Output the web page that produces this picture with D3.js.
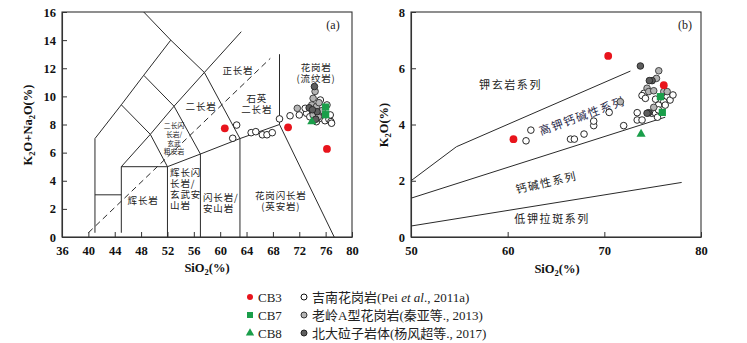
<!DOCTYPE html>
<html><head><meta charset="utf-8">
<script src="https://cdn.jsdelivr.net/npm/d3@7"></script>
<style>
body{margin:0;background:#fff;}
svg{display:block;font-family:"Liberation Serif","Noto Sans CJK SC",serif;}
</style></head>
<body><svg id="c" width="747" height="343"></svg>
<script>
// ---------- DATA ----------
// Panel (a): SiO2 vs K2O+Na2O
const aTicksX = [36,40,44,48,52,56,60,64,68,72,76,80];
const aTicksY = [0,2,4,6,8,10,12,14,16];
const aCB3 = [[60.7,7.73],[70.3,7.80],[76.2,6.26]];
const aCB7 = [[76.0,9.24],[76.0,8.70]];
const aCB8 = [[73.9,8.20]];
const aJinan = [[61.9,7.02],[62.5,7.96],[64.7,7.42],[65.4,7.49],[66.4,7.27],[67.1,7.27],[67.9,7.42],
  [69.0,8.40],[70.6,8.62],[72.0,8.68],[73.1,8.80],[72.9,9.15],[75.2,9.74],[75.1,8.91],[75.1,8.44],
  [74.6,8.20],[75.9,8.27],[76.5,8.37],[76.8,8.20],[76.2,9.39],[76.7,8.68],[76.9,8.09],[73.6,8.55]];
const aLaoling = [[74.4,10.35],[74.1,9.86],[73.9,9.39],[74.6,9.27],[74.1,8.68],[71.7,9.15],[75.0,9.55],[75.5,9.0],[74.9,8.55]];
const aBeidalazi = [[74.3,10.70],[73.5,9.19],[74.7,8.91],[74.5,8.37],[74.0,9.05]];
// classification boundaries (TAS)
const aLines = [
  [[41,0.3],[41,7]],[[41,3],[45,3]],[[45,0.3],[45,5]],[[45,5],[52,5]],[[52,0],[52,5]],
  [[57,0],[57,5.9]],[[63,0],[63,7]],
  [[45,5],[49.4,7.3],[53,9.3],[57.6,11.7],[63.2,14.6]],
  [[41,7],[45,9.4],[48.4,11.5],[52.5,14]],
  [[45,9.4],[49.4,7.3],[52,5]],
  [[48.4,11.5],[53,9.3],[57,5.9]],
  [[48.4,16],[52.5,14],[57.6,11.7],[63,7]],
  [[52,5],[57,5.9],[63,7],[69,8]],
  [[69,8],[69,13]],[[69,8],[77.3,0]]
];
const aDashed = [[40,0.3],[67.6,12.7]];
// field names (stacked lines share one label)
const aLabels = [
  {t:["正长岩"],x:62.7,y:11.85,a:"middle"},
  {t:["二长岩"],x:57.1,y:9.3,a:"middle"},
  {t:["石英","二长岩"],x:65.55,y:9.82,a:"middle"},
  {t:["花岗岩","(流纹岩)"],x:74.55,y:12.05,a:"middle"},
  {t:["花岗闪长岩","(英安岩)"],x:69.2,y:2.95,a:"middle"},
  {t:["辉长岩"],x:48.3,y:2.56,a:"middle"},
  {t:["闪长岩/","安山岩"],x:57.4,y:2.83,a:"start"},
  {t:["辉长闪","长岩/","玄武安","山岩"],x:52.4,y:4.6,a:"start"}
];
const aLabelsSmall = [{t:["二长闪","长岩/","玄武","粗安岩"],x:53.0,y:7.9,a:"middle"}];

// Panel (b): SiO2 vs K2O
const bTicksX = [50,60,70,80];
const bTicksY = [0,2,4,6,8];
const bCB3 = [[60.6,3.48],[70.4,6.44],[76.15,5.40]];
const bCB7 = [[75.8,4.99],[76.0,4.43]];
const bCB8 = [[73.8,3.66]];
const bJinan = [[61.9,3.42],[62.4,3.80],[66.5,3.48],[66.9,3.48],[67.9,3.66],[68.9,3.96],[68.9,4.12],
  [70.5,4.43],[72.0,3.96],[73.4,4.42],[73.4,4.16],[73.9,4.16],[74.1,5.11],[73.9,5.03],[74.25,4.93],
  [76.5,4.99],[76.8,4.87],[75.3,4.90],[76.15,4.81],[76.3,4.69],[75.6,4.69],[74.9,4.40],[75.3,4.40],
  [75.6,4.52],[75.5,4.26],[77.1,5.05]];
const bLaoling = [[75.63,5.91],[75.39,5.64],[74.42,5.29],[74.59,5.17],[75.11,5.20],[76.15,5.17],[76.5,5.17],[75.11,4.61],[71.66,4.81]];
const bBeidalazi = [[73.73,6.08],[74.94,5.56],[74.66,5.56],[74.59,4.42],[74.42,4.40]];
const bLines = [
  [[50,2.0],[54.7,3.21],[72.7,5.9]],
  [[50,1.38],[76.3,4.26]],
  [[50,0.39],[78,1.94]]
];

// ---------- DRAW ----------
const svg = d3.select("#c");
const ink = "#333";
const RED = "#e8141c", GREEN = "#1a9e4a", GREY = "#b4b4b4", DARK = "#5e5e5e";

function panel(xd, yd, xr, yr, xt, yt){
  const x = d3.scaleLinear().domain(xd).range(xr);
  const y = d3.scaleLinear().domain(yd).range(yr);
  const g = svg.append("g");
  g.append("rect").attr("x",xr[0]).attr("y",yr[1]).attr("width",xr[1]-xr[0]).attr("height",yr[0]-yr[1])
    .attr("fill","none").attr("stroke",ink).attr("stroke-width",1.1);
  const ax = g.append("g").attr("transform",`translate(0,${yr[0]})`)
    .call(d3.axisBottom(x).tickValues(xt).tickSizeInner(-5).tickSizeOuter(0).tickPadding(9));
  const ay = g.append("g").attr("transform",`translate(${xr[0]},0)`)
    .call(d3.axisLeft(y).tickValues(yt).tickSizeInner(-5).tickSizeOuter(0).tickPadding(6));
  [ax,ay].forEach(a=>{
    a.select(".domain").attr("stroke",ink).attr("stroke-width",1.1);
    a.selectAll(".tick line").attr("stroke",ink);
    a.selectAll("text").attr("font-family","Liberation Serif").attr("font-size",12.5).attr("fill","#111").attr("font-weight","bold");
  });
  return {g,x,y};
}

const A = panel([36,80],[0,16],[62,352],[237,12],aTicksX,aTicksY);
const B = panel([50,80],[0,8],[411,701],[237,12],bTicksX,bTicksY);

function lines(P, arr, dash){
  const ln = d3.line().x(d=>P.x(d[0])).y(d=>P.y(d[1]));
  P.g.append("g").selectAll("path").data(arr).join("path").attr("d",ln)
    .attr("fill","none").attr("stroke","#2a2a2a").attr("stroke-width",1).attr("stroke-dasharray",dash||null);
}
lines(A, aLines);
lines(A, [aDashed], "6,4");
lines(B, bLines);

function labels(P, arr, size, ls, lh){
  P.g.append("g").selectAll("text").data(arr).join("text")
    .attr("y",d=>P.y(d.y)).attr("text-anchor",d=>d.a).attr("font-size",size).attr("fill","#222")
    .attr("letter-spacing",ls).attr("font-family","Noto Sans CJK SC")
    .each(function(d){
      const t = d3.select(this);
      d.t.forEach((s,i)=>t.append("tspan").attr("x",P.x(d.x)).attr("dy",i===0?"0.35em":lh).text(s));
    });
}
labels(A, aLabels, 9.5, 0.8, 11);
labels(A, aLabelsSmall, 6.8, 0, 8.7);

// panel b rotated / plain labels
const bl = B.g.append("g").attr("font-family","Noto Sans CJK SC").attr("fill","#222");
bl.append("text").attr("x",B.x(60.3)).attr("y",B.y(5.4)).attr("dy","0.35em").attr("text-anchor","middle").attr("font-size",11).attr("letter-spacing",1.6).text("钾玄岩系列");
bl.append("text").attr("transform",`translate(${B.x(67.7)},${B.y(4.3)}) rotate(-20)`).attr("dy","0.35em").attr("text-anchor","middle").attr("font-size",11.5).attr("letter-spacing",1.4).attr("fill","#2a2a4a").text("高钾钙碱性系列");
bl.append("text").attr("transform",`translate(${B.x(64.0)},${B.y(1.93)}) rotate(-13)`).attr("dy","0.35em").attr("text-anchor","middle").attr("font-size",11).attr("letter-spacing",1.5).text("钙碱性系列");
bl.append("text").attr("x",B.x(64.6)).attr("y",B.y(0.65)).attr("dy","0.35em").attr("text-anchor","middle").attr("font-size",11).attr("letter-spacing",1.6).text("低钾拉斑系列");

// panel tags
A.g.append("text").attr("x",333).attr("y",29).attr("text-anchor","middle").attr("font-size",12).attr("fill","#222").text("(a)");
B.g.append("text").attr("x",685).attr("y",29).attr("text-anchor","middle").attr("font-size",12).attr("fill","#222").text("(b)");

// points
function circles(P, arr, fill, stroke, r){
  P.g.append("g").selectAll("circle").data(arr).join("circle")
    .attr("cx",d=>P.x(d[0])).attr("cy",d=>P.y(d[1])).attr("r",r)
    .attr("fill",fill).attr("stroke",stroke).attr("stroke-width",stroke==="none"?0:0.9);
}
function symbols(P, arr, type, size, fill){
  P.g.append("g").selectAll("path").data(arr).join("path")
    .attr("transform",d=>`translate(${P.x(d[0])},${P.y(d[1])})`)
    .attr("d",d3.symbol().type(type).size(size)).attr("fill",fill);
}
[[A,aJinan,aLaoling,aBeidalazi,aCB3,aCB7,aCB8],[B,bJinan,bLaoling,bBeidalazi,bCB3,bCB7,bCB8]].forEach(([P,j,l,b,c3,c7,c8])=>{
  circles(P,j,"#fff","#111",3.3);
  circles(P,l,GREY,"#333",3.3);
  circles(P,b,DARK,"#222",3.3);
  circles(P,c3,RED,"none",3.9);
  symbols(P,c7,d3.symbolSquare,52,GREEN);
  symbols(P,c8,d3.symbolTriangle,36,GREEN);
});

// axis titles
function sio2(x,y){
  const t = svg.append("text").attr("x",x).attr("y",y).attr("text-anchor","middle").attr("font-size",12.5).attr("font-weight","bold").attr("fill","#111");
  t.append("tspan").text("SiO");
  t.append("tspan").attr("font-size",8.5).attr("dy",3).text("2");
  t.append("tspan").attr("dy",-3).text("(%)");
}
sio2(207,272); sio2(557,273);
function ylab(x,y,parts){
  const t = svg.append("text").attr("transform",`translate(${x},${y}) rotate(-90)`).attr("text-anchor","middle").attr("font-size",12.5).attr("font-weight","bold").attr("fill","#111");
  parts.forEach(p=>{
    if(p.sub){ t.append("tspan").attr("font-size",8.5).attr("dy",3).text(p.t); }
    else { t.append("tspan").attr("dy",p.after?-3:0).text(p.t); }
  });
}
ylab(32,125,[{t:"K"},{t:"2",sub:1},{t:"O+Na",after:1},{t:"2",sub:1},{t:"O(%)",after:1}]);
ylab(388,125,[{t:"K"},{t:"2",sub:1},{t:"O(%)",after:1}]);

// legend
const lg = svg.append("g").attr("font-size",13).attr("fill","#222");
const rows = [297,315,333];
lg.append("circle").attr("cx",250).attr("cy",rows[0]).attr("r",3).attr("fill",RED);
lg.append("path").attr("transform",`translate(250,${rows[1]})`).attr("d",d3.symbol().type(d3.symbolSquare).size(36)).attr("fill",GREEN);
lg.append("path").attr("transform",`translate(250,${rows[2]})`).attr("d",d3.symbol().type(d3.symbolTriangle).size(30)).attr("fill",GREEN);
["CB3","CB7","CB8"].forEach((t,i)=>lg.append("text").attr("x",258).attr("y",rows[i]).attr("dy","0.35em").text(t));
lg.append("circle").attr("cx",304).attr("cy",rows[0]).attr("r",3).attr("fill","#fff").attr("stroke","#111").attr("stroke-width",1);
lg.append("circle").attr("cx",304).attr("cy",rows[1]).attr("r",3).attr("fill",GREY).attr("stroke","#333").attr("stroke-width",1);
lg.append("circle").attr("cx",304).attr("cy",rows[2]).attr("r",3).attr("fill",DARK).attr("stroke","#222").attr("stroke-width",1);
const t1 = lg.append("text").attr("x",312).attr("y",rows[0]).attr("dy","0.35em");
t1.append("tspan").text("吉南花岗岩(Pei ");
t1.append("tspan").attr("font-style","italic").text("et al");
t1.append("tspan").text("., 2011a)");
lg.append("text").attr("x",312).attr("y",rows[1]).attr("dy","0.35em").text("老岭A型花岗岩(秦亚等., 2013)");
lg.append("text").attr("x",312).attr("y",rows[2]).attr("dy","0.35em").text("北大砬子岩体(杨风超等., 2017)");
</script></body></html>
